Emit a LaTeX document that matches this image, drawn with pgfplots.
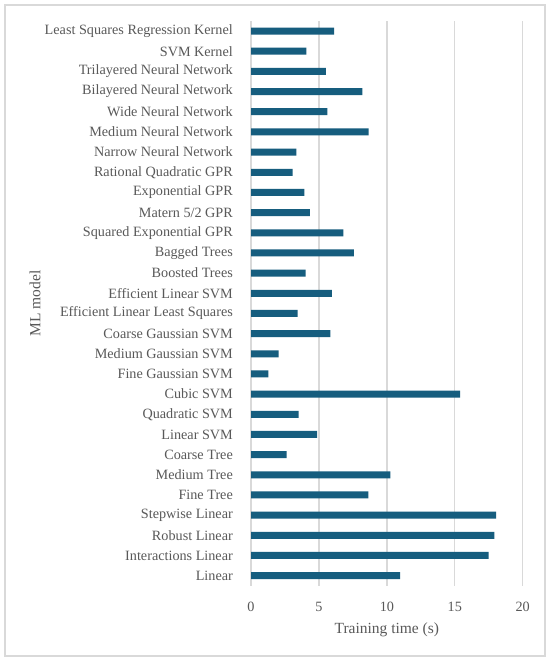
\documentclass[border=0pt]{standalone}
\usepackage{fontspec}
\setmainfont{Liberation Serif}
\usepackage{pgfplots}
\pgfplotsset{compat=1.18}
\definecolor{barc}{RGB}{22,93,126}
\definecolor{txt}{RGB}{89,89,89}
\definecolor{grd}{RGB}{217,217,217}
\begin{document}
\begin{tikzpicture}[x=1pt,y=1pt]
\useasboundingbox (0,0) rectangle (550,661);
\fill[white] (0,0) rectangle (550,661);
\draw[grd,line width=1.3pt] (5,5) rectangle (545,656);
\begin{axis}[
  at={(251pt,75.3pt)}, anchor=south west,
  scale only axis, width=271.7pt, height=564.7pt,
  xbar, bar width=7pt,
  xmin=0, xmax=20, ymin=-0.5, ymax=27.5,
  xtick={0,5,10,15,20},
  ytick={0,...,27},
  yticklabels={Linear, Interactions Linear, Robust Linear, Stepwise Linear, Fine Tree, Medium Tree, Coarse Tree, Linear SVM, Quadratic SVM, Cubic SVM, Fine Gaussian SVM, Medium Gaussian SVM, Coarse Gaussian SVM, Efficient Linear Least Squares, Efficient Linear SVM, Boosted Trees, Bagged Trees, Squared Exponential GPR, Matern 5/2 GPR, Exponential GPR, Rational Quadratic GPR, Narrow Neural Network, Medium Neural Network, Wide Neural Network, Bilayered Neural Network, Trilayered Neural Network, SVM Kernel, Least Squares Regression Kernel},
  /pgf/number format/assume math mode=true,
  axis line style={draw=none},
  major tick style={draw=none},
  xmajorgrids, major grid style={grd, line width=1.3pt},
  ticklabel style={font=\fontsize{14.2}{16}\selectfont, text=txt},
  yticklabel style={anchor=east, inner sep=0pt, xshift=-13.7pt},
  xticklabel style={anchor=center, inner sep=0pt, yshift=-21pt},
  xlabel={Training time (s)}, ylabel={ML model},
  label style={font=\fontsize{15.5}{17}\selectfont, text=txt},
  xlabel style={at={(axis description cs:0.5,0)}, anchor=center, inner sep=0pt, yshift=-43.6pt},
  ylabel style={at={(axis description cs:0,0.5)}, anchor=center, inner sep=0pt, rotate=0, yshift=216pt},
]
\addplot[fill=barc, draw=none] coordinates {
(10.97,0) (17.50,1) (17.92,2) (18.04,3) (8.64,4) (10.26,5) (2.63,6) (4.86,7) (3.51,8) (15.39,9) (1.28,10) (2.04,11) (5.84,12) (3.44,13) (5.96,14) (4.03,15) (7.58,16) (6.80,17) (4.34,18) (3.93,19) (3.07,20) (3.34,21) (8.66,22) (5.62,23) (8.20,24) (5.52,25) (4.07,26) (6.11,27)
};
\end{axis}
\end{tikzpicture}
\end{document}
